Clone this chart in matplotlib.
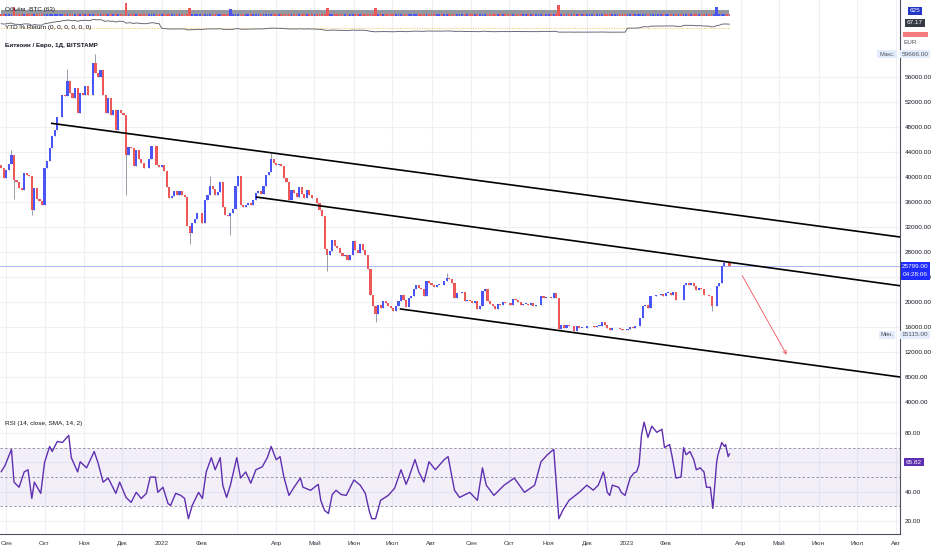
import numpy as np
import pandas as pd
import matplotlib
matplotlib.use("Agg")
import matplotlib.pyplot as plt
import matplotlib.dates as mdates

W, H = 932, 550

# BTC/EUR closes (thousands), one candle every 2 days from 2021-08-28
close_k = [
    41.5, 39.8, 41.1, 42.1, 43.6, 39.5, 39.2, 38.3, 38.0, 40.7, 40.3, 40.2, 34.7, 38.3, 36.5,
    36.1, 35.6, 41.5, 42.5, 44.6, 46.6, 47.6, 49.6, 49.6, 53.1, 53.0, 55.3, 53.5, 52.7, 54.2,
    50.3, 53.5, 53.1, 54.5, 53.1, 53.2, 58.3, 56.6, 56.0, 57.2, 53.1, 50.2, 52.7, 50.0, 50.8,
    47.5, 50.7, 50.3, 49.9, 43.6, 44.8, 44.7, 41.7, 44.3, 42.9, 42.2, 41.5, 41.4, 42.9, 44.9,
    44.9, 41.9, 41.6, 42.0, 41.0, 38.4, 36.6, 36.9, 37.7, 37.2, 37.7, 37.1, 36.8, 32.2, 31.0,
    32.7, 33.3, 34.2, 34.3, 32.6, 36.4, 37.1, 38.5, 38.1, 37.1, 37.6, 39.2, 35.2, 33.9, 33.8,
    34.2, 34.9, 38.5, 40.1, 35.5, 35.2, 35.5, 35.8, 35.6, 36.3, 37.4, 37.8, 37.3, 38.5, 40.3,
    40.8, 42.9, 42.2, 41.9, 42.1, 41.7, 39.9, 39.2, 36.3, 37.9, 37.5, 36.8, 38.4, 37.3, 36.7,
    37.9, 37.2, 36.6, 36.6, 35.8, 34.7, 33.7, 28.5, 27.5, 28.2, 30.0, 28.9, 28.7, 27.9, 27.4,
    27.6, 26.8, 27.6, 29.7, 28.4, 27.8, 29.3, 28.3, 27.6, 25.3, 21.2, 19.4, 18.1, 19.6, 19.1,
    20.1, 19.9, 19.3, 19.0, 18.5, 19.4, 20.2, 21.2, 20.4, 19.2, 20.6, 21.0, 22.1, 22.7, 22.2,
    22.1, 20.9, 23.3, 23.1, 22.8, 22.4, 22.8, 22.8, 22.7, 23.3, 23.8, 23.7, 23.0, 20.7, 21.4,
    21.5, 21.6, 20.1, 20.3, 20.1, 19.9, 20.1, 18.9, 19.3, 21.7, 22.1, 20.2, 19.7, 19.4, 18.9,
    19.7, 19.5, 20.0, 19.9, 19.8, 19.5, 20.5, 20.3, 20.0, 19.6, 19.7, 19.7, 19.6, 19.8, 19.4,
    19.5, 19.6, 20.9, 20.7, 20.8, 20.8, 20.6, 21.4, 20.6, 15.7, 16.4, 15.8, 16.3, 16.1, 16.2,
    15.4, 16.1, 15.9, 15.9, 15.8, 16.1, 16.1, 16.2, 16.0, 16.2, 16.2, 16.8, 16.3, 15.8, 15.5,
    15.8, 15.8, 15.8, 15.7, 15.6, 15.5, 15.7, 16.0, 15.9, 16.1, 16.2, 17.4, 19.3, 19.6, 19.1,
    20.9, 20.9, 21.1, 21.1, 21.3, 21.0, 21.5, 21.5, 21.2, 21.6, 20.3, 20.4, 20.3, 22.7, 23.0,
    22.7, 23.0, 22.5, 22.0, 22.2, 22.1, 21.1, 21.1, 21.0, 19.3, 19.4, 22.5, 23.0, 25.7, 26.3,
    26.2, 25.8,
]
open_first = 41.9
close_2020 = 23.7

wick_high = {"2021-09-05": 44.4, "2021-10-19": 57.3, "2021-11-10": 59.7, "2022-02-08": 40.2,
             "2022-03-28": 43.9, "2022-08-13": 24.6, "2023-03-19": 26.8}
wick_low = {"2021-09-07": 36.5, "2021-09-21": 33.9, "2021-12-04": 37.2, "2022-01-23": 29.3,
            "2022-02-24": 30.8, "2022-05-11": 24.9, "2022-06-18": 16.8, "2022-11-21": 15.1,
            "2023-03-09": 18.6}

rsi_dates = [
    "2021-08-28", "2021-08-31", "2021-09-05", "2021-09-07", "2021-09-11", "2021-09-15", "2021-09-18",
    "2021-09-21", "2021-09-23", "2021-09-28", "2021-10-01", "2021-10-05", "2021-10-07", "2021-10-11",
    "2021-10-15", "2021-10-20", "2021-10-22", "2021-10-27", "2021-10-29", "2021-11-03", "2021-11-09",
    "2021-11-12", "2021-11-16", "2021-11-20", "2021-11-26", "2021-11-29", "2021-12-04", "2021-12-08",
    "2021-12-12", "2021-12-16", "2021-12-20", "2021-12-23", "2021-12-27", "2021-12-29", "2022-01-02",
    "2022-01-06", "2022-01-08", "2022-01-12", "2022-01-16", "2022-01-19", "2022-01-22", "2022-01-25",
    "2022-01-30", "2022-02-02", "2022-02-05", "2022-02-09", "2022-02-12", "2022-02-16", "2022-02-18",
    "2022-02-21", "2022-02-24", "2022-03-01", "2022-03-04", "2022-03-08", "2022-03-12", "2022-03-16",
    "2022-03-21", "2022-03-25", "2022-03-28", "2022-04-01", "2022-04-04", "2022-04-07", "2022-04-11",
    "2022-04-15", "2022-04-20", "2022-04-22", "2022-04-28", "2022-05-04", "2022-05-06", "2022-05-09",
    "2022-05-12", "2022-05-15", "2022-05-18", "2022-05-22", "2022-05-26", "2022-06-01", "2022-06-06",
    "2022-06-10", "2022-06-13", "2022-06-15", "2022-06-18", "2022-06-22", "2022-06-28", "2022-07-03",
    "2022-07-08", "2022-07-12", "2022-07-14", "2022-07-19", "2022-07-22", "2022-07-26", "2022-07-30",
    "2022-08-04", "2022-08-11", "2022-08-14", "2022-08-19", "2022-08-23", "2022-08-31", "2022-09-06",
    "2022-09-10", "2022-09-13", "2022-09-19", "2022-09-27", "2022-10-05", "2022-10-13", "2022-10-21",
    "2022-10-26", "2022-10-31", "2022-11-05", "2022-11-09", "2022-11-12", "2022-11-17", "2022-11-25",
    "2022-12-01", "2022-12-06", "2022-12-10", "2022-12-14", "2022-12-15", "2022-12-17", "2022-12-19",
    "2022-12-21", "2022-12-26", "2022-12-28", "2022-12-31", "2023-01-04", "2023-01-07", "2023-01-09",
    "2023-01-11", "2023-01-13", "2023-01-15", "2023-01-18", "2023-01-21", "2023-01-25", "2023-01-29",
    "2023-01-31", "2023-02-04", "2023-02-06", "2023-02-09", "2023-02-13", "2023-02-15", "2023-02-17",
    "2023-02-20", "2023-02-23", "2023-02-25", "2023-02-28", "2023-03-03", "2023-03-05", "2023-03-08",
    "2023-03-10", "2023-03-13", "2023-03-14", "2023-03-17", "2023-03-19", "2023-03-20", "2023-03-22",
    "2023-03-23",
]
rsi_vals = [
    53.7, 58.0, 69.0, 46.5, 43.0, 53.5, 55.0,
    35.3, 46.5, 38.8, 60.0, 71.0, 67.5, 74.4,
    73.7, 78.6, 63.3, 53.5, 60.5, 56.3, 67.5,
    59.8, 46.5, 49.3, 38.8, 46.5, 36.0, 32.6,
    39.5, 35.3, 38.8, 50.0, 50.0, 39.5, 43.0,
    31.8, 30.5, 38.8, 37.4, 35.3, 21.4, 30.5,
    39.5, 35.3, 53.5, 63.3, 55.0, 63.3, 44.4,
    36.0, 44.4, 63.3, 49.3, 53.5, 45.8, 55.0,
    57.0, 63.3, 71.0, 61.9, 64.0, 50.0, 37.4,
    43.0, 49.3, 43.0, 40.9, 45.0, 33.9, 27.0,
    25.0, 38.0, 40.9, 38.0, 37.4, 48.0, 44.4,
    38.8, 27.0, 21.4, 21.4, 34.0, 37.4, 42.3,
    55.0, 45.0, 49.3, 62.0, 53.5, 46.5, 60.5,
    55.0, 62.0, 64.0, 41.0, 36.0, 39.5, 34.0,
    56.3, 44.4, 37.4, 44.4, 49.3, 39.5, 44.4,
    60.5, 65.3, 69.0, 21.4, 27.0, 34.0, 39.5,
    44.4, 41.0, 44.4, 53.5, 50.0, 39.5, 37.4,
    44.4, 43.0, 39.5, 37.4, 49.3, 52.8, 53.5,
    58.4, 79.3, 87.7, 77.2, 84.9, 80.7, 82.8,
    70.2, 72.3, 64.0, 49.3, 50.0, 70.2, 65.3,
    67.5, 61.9, 55.0, 56.3, 53.5, 43.0, 43.0,
    28.4, 60.5, 65.3, 73.7, 71.0, 72.3, 64.0,
    65.8,
]

# volume spikes sticking out of the volume strip
vol_dates = ["2021-09-07", "2021-12-04", "2022-01-23", "2022-02-24", "2022-05-11",
             "2022-06-18", "2022-11-09", "2023-03-13"]
vol_vals = [0.62, 0.85, 0.6, 0.55, 0.58, 0.6, 0.75, 0.62]
vol_up = [False, False, False, True, False, False, False, True]

# trend lines (date, EUR)
trend_lines = [
    (("2021-10-06", 48600), ("2023-08-04", 30400)),
    (("2022-03-16", 36800), ("2023-08-04", 22600)),
    (("2022-07-07", 18900), ("2023-08-04", 8000)),
]
arrow_from = ("2023-04-01", 24600)
arrow_to = ("2023-05-08", 11200)

last_price = 25799.0

month_names = {1: None, 2: "Фев", 3: "", 4: "Апр", 5: "Май", 6: "Июн", 7: "Июл",
               8: "Авг", 9: "Сен", 10: "Окт", 11: "Ноя", 12: "Дек"}

UP = "#4a55f5"
DOWN = "#ef5858"
WICK = "#8a8d96"
GRID = "#eef0f6"
AXC = "#50535e"
TXT = "#131722"

plt.rcParams["font.family"] = ["Liberation Sans", "DejaVu Sans"]

dates = pd.date_range("2021-08-28", periods=len(close_k), freq="2D")
x = mdates.date2num(dates)
c = np.array(close_k) * 1000
o = np.concatenate([[open_first * 1000], c[:-1]])
hi = np.maximum(o, c)
lo = np.minimum(o, c)
for d, v in wick_high.items():
    hi[dates.get_loc(pd.Timestamp(d))] = v * 1000
for d, v in wick_low.items():
    lo[dates.get_loc(pd.Timestamp(d))] = v * 1000
up = c >= o

xmin = mdates.datestr2num("2021-08-27")
xmax = mdates.datestr2num("2023-08-04")
months = pd.date_range("2021-09-01", "2023-08-01", freq="MS")
mx = mdates.date2num(months)

fig = plt.figure(figsize=(W / 100, H / 100), dpi=100)


def px_axes(x0, y0, x1, y1):
    return fig.add_axes([x0 / W, 1 - y1 / H, (x1 - x0) / W, (y1 - y0) / H])


def style(a, bottom_dark=False):
    a.set_xlim(xmin, xmax)
    for xv in mx:
        a.axvline(xv, color=GRID, lw=0.8, zorder=0)
    a.spines["left"].set_visible(False)
    a.spines["top"].set_visible(False)
    a.spines["right"].set_color(AXC)
    a.spines["right"].set_linewidth(0.8)
    a.spines["bottom"].set_color(AXC if bottom_dark else "#d9dce3")
    a.spines["bottom"].set_linewidth(0.8 if bottom_dark else 0.6)
    a.tick_params(axis="both", length=0, labelsize=4.6, colors=TXT)
    a.set_xticks([])
    a.yaxis.tick_right()


ax_vol = px_axes(0, 0, 900, 19)
ax_ytd = px_axes(0, 19, 900, 37)
ax = px_axes(0, 37, 900, 409)
ax_rsi = px_axes(0, 409, 900, 534)

for a in (ax_vol, ax_ytd, ax):
    style(a)
style(ax_rsi, bottom_dark=True)

# volume strip
ax_vol.set_ylim(0, 1)
ax_vol.set_yticks([])
ax_vol.fill_between([x[0], x[-1]], 0.16, 0.47, color="#9598a1", lw=0)
ax_vol.bar(x, 0.08, bottom=0.16, width=1.4, color=np.where(up, UP, DOWN), lw=0)
vx = mdates.date2num(pd.to_datetime(vol_dates))
ax_vol.bar(vx, np.array(vol_vals) - 0.16, bottom=0.16, width=2.2,
           color=[UP if u else DOWN for u in vol_up], lw=0)

# YTD % return
year_end = {2021: close_2020 * 1000}
for yr in (2022, 2023):
    year_end[yr] = c[dates.year == yr - 1][-1]
ytd = np.array([(cv / year_end[d.year] - 1) * 100 for cv, d in zip(c, dates)])
ax_ytd.set_ylim(-140, 150)
ax_ytd.set_yticks([])
ax_ytd.plot([x[0], x[-1]], [0, 0], color="#f2c14e", lw=0.7, ls=(0, (1, 1.5)))
ax_ytd.plot(x, ytd, color="#6a6d78", lw=0.7)

# price
ax.set_ylim(2880, 62400)
ticks = np.arange(4000, 60000, 4000)
ax.set_yticks(ticks)
ax.set_yticklabels([f"{t:.2f}" for t in ticks])
for t in ticks:
    ax.axhline(t, color=GRID, lw=0.8, zorder=0)
ax.axhline(last_price, color="#9ea8f7", lw=0.6, zorder=1)
ax.vlines(x, lo, hi, color=WICK, lw=0.6, zorder=2)
ax.bar(x, np.maximum(np.abs(c - o), 70), bottom=np.minimum(o, c), width=1.7,
       color=np.where(up, UP, DOWN), lw=0, zorder=3)
for (d0, p0), (d1, p1) in trend_lines:
    ax.plot([mdates.datestr2num(d0), mdates.datestr2num(d1)], [p0, p1],
            color="black", lw=1.2, zorder=4, solid_capstyle="butt")
ax.annotate("", xy=(mdates.datestr2num(arrow_to[0]), arrow_to[1]),
            xytext=(mdates.datestr2num(arrow_from[0]), arrow_from[1]),
            arrowprops=dict(arrowstyle="->", color="#f0525a", lw=0.6,
                            mutation_scale=6))

# RSI
rx = mdates.date2num(pd.to_datetime(rsi_dates))
ax_rsi.set_ylim(10.9, 96.7)
rt = [20, 40, 60, 80]
ax_rsi.set_yticks(rt)
ax_rsi.set_yticklabels([f"{t:.2f}" for t in rt])
for t in rt:
    ax_rsi.axhline(t, color=GRID, lw=0.8, zorder=0)
ax_rsi.axhspan(30, 70, color="#7e57c2", alpha=0.09, lw=0)
for t in (30, 50, 70):
    ax_rsi.axhline(t, color="#8a8d96", lw=0.6, ls=(0, (3, 2.5)))
ax_rsi.plot(rx, rsi_vals, color="#5e2fb0", lw=1.0)

# month axis
ax_rsi.set_xticks(mx)
labels = []
for m in months:
    name = month_names[m.month]
    labels.append(str(m.year) if name is None else name)
ax_rsi.set_xticklabels(labels)
ax_rsi.tick_params(axis="x", pad=5, labelsize=4.6, colors="#333640")


def ftext(px, py, s, **kw):
    kw.setdefault("fontsize", 4.6)
    kw.setdefault("color", TXT)
    kw.setdefault("va", "center")
    return fig.text(px / W, 1 - py / H, s, **kw)


def box(px, py, s, fc, color="white", **kw):
    return ftext(px, py, s, color=color, ha="center",
                 bbox=dict(boxstyle="square,pad=0.3", fc=fc, ec="none"), **kw)


ftext(5, 10, "Объём ·BTC (63)")
ftext(5, 28, "YTD % Return (0, 0, 0, 0, 0, 0)")
ftext(5, 46, "Биткоин / Евро, 1Д, BITSTAMP", fontsize=4.5, fontweight="bold")
ftext(5, 424, "RSI (14, close, SMA, 14, 2)")

box(915, 11, "625", "#2436c4")
box(915, 23, "67.17", "#363a45")
fig.patches.append(plt.Rectangle((903 / W, 1 - 37 / H), 25 / W, 5 / H,
                                 transform=fig.transFigure, fc="#f77c80", ec="none"))
ftext(904, 43, "EUR", color="#50535e")
box(887, 54, "Макс.", "#e3ecfb", color="#50535e", fontsize=4.2)
box(915, 54, "59666.00", "#e3ecfb", color="#50535e")
box(887, 335, "Мин.", "#e3ecfb", color="#50535e", fontsize=4.2)
box(915, 335, "15115.00", "#e3ecfb", color="#50535e")
fig.patches.append(plt.Rectangle((901 / W, 1 - 280 / H), 29 / W, 18 / H,
                                 transform=fig.transFigure, fc="#1f2bff", ec="none"))
ftext(915, 266, "25799.00", color="white", ha="center")
ftext(915, 274, "04:28:06", color="white", ha="center")
box(914, 462, "65.82", "#5e2fb0")

fig.savefig("out.png", dpi=100, facecolor="white")
